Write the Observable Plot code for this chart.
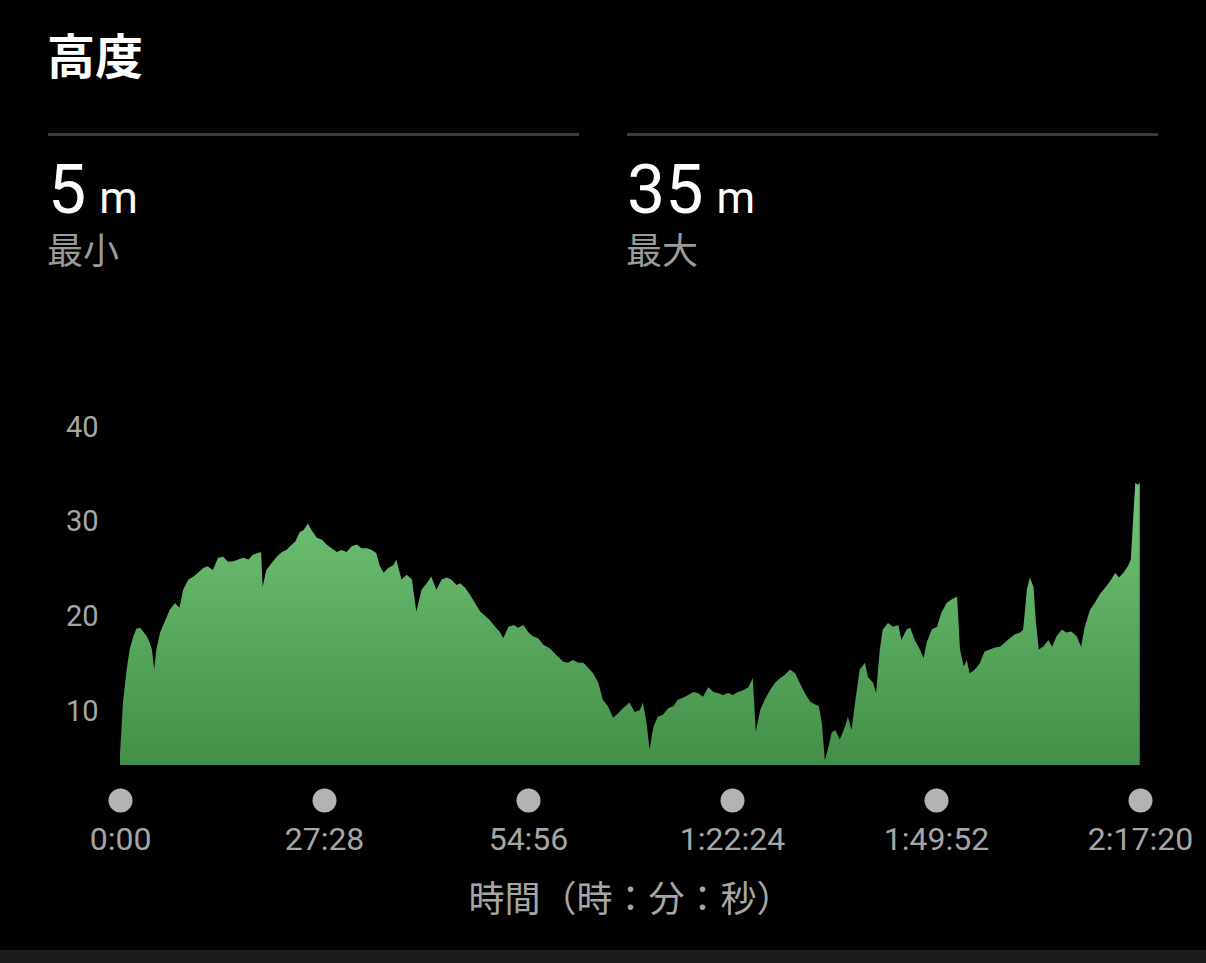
<!DOCTYPE html>
<html>
<head>
<meta charset="utf-8">
<script src="https://cdn.jsdelivr.net/npm/d3@7"></script>
<script src="https://cdn.jsdelivr.net/npm/@observablehq/plot@0.6"></script>
<style>
  html, body { margin: 0; padding: 0; background: #000; width: 1206px; height: 963px; overflow: hidden; }
  body { position: relative; font-family: Roboto, "Noto Sans CJK JP", sans-serif; color: #fff; }
  .abs { position: absolute; white-space: nowrap; }
  #title { left: 47px; top: 29px; font-size: 48px; line-height: 48px; font-weight: 700; font-family: "Noto Sans CJK JP", sans-serif; }
  .rule { height: 3px; background: #3a3a3c; top: 133px; width: 531px; }
  .big { top: 156px; font-size: 68px; line-height: 68px; }
  .big .unit { font-size: 44px; margin-left: 13px; }
  .lbl { top: 232px; font-size: 36px; line-height: 40px; color: #9b9b9b; font-family: Roboto, "Noto Sans CJK JP", sans-serif; }
  #chart { left: 0; top: 380px; }
  #strip { left: 0; top: 950px; width: 1206px; height: 13px; background: #1c1c1e; }
</style>
</head>
<body>
<div id="title" class="abs"></div>
<div class="abs rule" style="left:48px"></div>
<div class="abs rule" style="left:627px"></div>
<div id="minVal" class="abs big" style="left:48px"></div>
<div id="maxVal" class="abs big" style="left:627px"></div>
<div id="minLbl" class="abs lbl" style="left:47px"></div>
<div id="maxLbl" class="abs lbl" style="left:626px"></div>
<div id="chart" class="abs"></div>
<div id="strip" class="abs"></div>
<script>
// ---- data ----
const title = "高度";
const statValues = [5, 35];
const statUnit = "m";
const statLabels = ["最小", "最大"];
const xAxisTitle = "時間（時：分：秒）";
const yTicks = [10, 20, 30, 40];
const xTickMinutes = [0, 27.4667, 54.9333, 82.4, 109.8667, 137.3333];
const xTickLabels = ["0:00", "27:28", "54:56", "1:22:24", "1:49:52", "2:17:20"];
const timeMin = [0,0.4,0.9,1.3,1.8,2.2,2.7,3.1,3.6,4.0,4.3,4.6,4.9,5.4,6.1,6.7,7.4,8.0,8.5,9.2,9.9,10.5,11.2,11.8,12.5,13.2,13.9,14.5,15.2,15.9,16.6,17.3,17.9,18.6,19.0,19.2,19.7,20.4,21.1,21.8,22.4,22.9,23.6,24.2,24.7,25.3,25.8,26.5,27.2,27.8,28.5,29.2,29.8,30.5,31.2,31.9,32.5,33.2,33.9,34.5,35.0,35.5,36.1,36.8,37.2,37.9,38.6,39.3,39.9,40.6,41.3,41.9,42.6,43.3,44.0,44.6,45.3,45.8,46.5,47.1,47.8,48.5,49.2,49.8,50.5,51.2,51.6,52.3,53.0,53.6,54.3,55.0,55.6,56.3,57.0,57.7,58.3,59.0,59.7,60.3,61.0,61.7,62.4,63.0,63.7,64.4,65.0,65.7,66.4,67.1,67.7,68.6,69.3,70.0,70.4,70.9,71.3,71.8,72.4,73.1,73.8,74.5,75.1,75.8,76.5,77.2,77.8,78.5,79.2,79.9,80.5,81.2,81.9,82.5,83.2,83.9,84.6,85.2,85.6,86.2,86.8,87.5,88.2,88.9,89.5,90.2,90.9,91.5,92.2,92.9,93.6,94.1,94.5,94.9,95.4,95.8,96.3,96.9,97.6,98.0,98.5,98.9,99.6,100.3,100.7,101.4,101.8,102.3,102.7,103.4,104.1,104.8,105.2,105.9,106.4,107.0,107.7,108.2,108.6,109.3,110.0,110.6,111.3,112.0,112.7,113.1,113.6,114.0,114.4,115.1,115.8,116.4,117.1,117.8,118.5,119.1,119.8,120.5,121.2,121.6,122.1,122.5,123.0,123.3,123.7,124.3,125.0,125.5,126.1,126.8,127.4,128.1,128.8,129.4,129.9,130.6,131.3,131.9,132.6,133.3,134.0,134.5,135.1,135.7,136.1,136.4,136.7,137.0,137.3];
const elevation = [5.5,10.9,14.4,16.5,17.9,18.7,18.8,18.4,17.9,17.2,16.5,14.4,16.5,18.3,19.6,20.7,21.4,20.9,22.8,23.9,24.2,24.6,25.1,25.3,24.9,26.2,26.3,25.8,25.8,26.0,26.2,26.0,26.5,26.7,26.8,23.1,24.9,25.6,26.3,26.8,27.0,27.4,27.9,28.9,29.1,29.8,29.1,28.3,28.1,27.6,27.2,26.8,27.0,26.8,27.4,27.6,27.2,27.2,27.0,26.7,25.3,24.6,25.1,25.4,26.0,23.9,24.4,23.9,20.5,22.8,23.5,24.2,22.8,23.9,24.1,23.9,23.3,23.5,23.0,22.3,21.4,20.5,20.0,19.6,18.9,18.3,17.7,18.9,19.1,18.8,19.1,18.3,17.9,17.7,17.0,16.7,16.3,15.7,15.2,15.1,15.4,15.1,15.1,14.6,14.0,13.0,11.2,10.5,9.3,9.8,10.3,10.9,9.9,10.1,10.9,8.7,5.9,8.3,9.4,9.6,10.3,10.5,11.2,11.4,11.7,12.0,11.9,11.5,12.5,12.0,11.9,11.7,11.9,11.7,12.0,12.2,12.5,13.5,7.8,10.1,11.2,12.2,13.0,13.5,13.8,14.4,14.0,13.0,11.9,11.0,10.7,10.5,8.7,4.8,6.2,7.7,8.0,7.0,8.3,9.4,8.0,10.5,14.4,15.1,13.6,13.0,11.9,16.5,18.6,19.3,18.9,19.1,17.5,18.6,18.8,17.5,16.5,15.6,17.2,18.6,18.9,20.4,21.4,21.8,22.1,16.5,14.7,15.4,14.0,14.4,15.1,16.3,16.5,16.7,16.8,17.2,17.7,18.1,18.3,18.6,22.8,24.1,23.1,19.6,16.5,16.8,17.5,16.8,17.9,18.6,18.3,18.4,17.9,16.8,18.9,20.7,21.5,22.3,23.0,23.7,24.6,24.1,24.6,25.3,26.0,30.2,34.1,33.9,34.1];

// ---- header ----
document.getElementById("title").textContent = title;
document.getElementById("minVal").innerHTML = `${statValues[0]}<span class="unit">${statUnit}</span>`;
document.getElementById("maxVal").innerHTML = `${statValues[1]}<span class="unit">${statUnit}</span>`;
document.getElementById("minLbl").textContent = statLabels[0];
document.getElementById("maxLbl").textContent = statLabels[1];

// ---- chart ----
const data = timeMin.map((t, i) => ({t, v: elevation[i]}));
const yBase = 4.3;
const labelColor = "#a6a6a6";

const chart = Plot.plot({
  width: 1206,
  height: 570,
  marginLeft: 120,
  marginRight: 66,
  marginTop: 47,
  marginBottom: 185,
  style: {background: "#000", color: labelColor, fontFamily: "Roboto, 'Noto Sans CJK JP', sans-serif", overflow: "visible"},
  x: {domain: [0, 137.3333], axis: null},
  y: {domain: [yBase, 40], axis: null},
  marks: [
    Plot.areaY(data, {x: "t", y1: yBase, y2: "v", fill: "url(#elevGrad)", curve: "linear"}),
    Plot.axisY({ticks: yTicks, tickSize: 0, tickPadding: 22, fontSize: 29, label: null, fill: labelColor}),
    Plot.dot(xTickMinutes, {x: d => d, frameAnchor: "bottom", dy: 35, r: 12, fill: "#b3b3b3", stroke: "none"}),
    Plot.text(xTickMinutes, {x: d => d, frameAnchor: "bottom", dy: 74, text: (d, i) => xTickLabels[i], fontSize: 32, fill: labelColor, lineAnchor: "middle"}),
    Plot.text([xAxisTitle], {frameAnchor: "bottom", dy: 135, text: d => d, fontSize: 36, fill: labelColor, lineAnchor: "middle", fontFamily: "'Noto Sans CJK JP', sans-serif"})
  ]
});

const svg = d3.select(chart);
const defs = svg.insert("defs", ":first-child");
const grad = defs.append("linearGradient").attr("id", "elevGrad").attr("x1", 0).attr("y1", 0).attr("x2", 0).attr("y2", 1);
grad.append("stop").attr("offset", "0%").attr("stop-color", "#72c478");
grad.append("stop").attr("offset", "100%").attr("stop-color", "#438f49");

document.getElementById("chart").appendChild(chart);
</script>
</body>
</html>
